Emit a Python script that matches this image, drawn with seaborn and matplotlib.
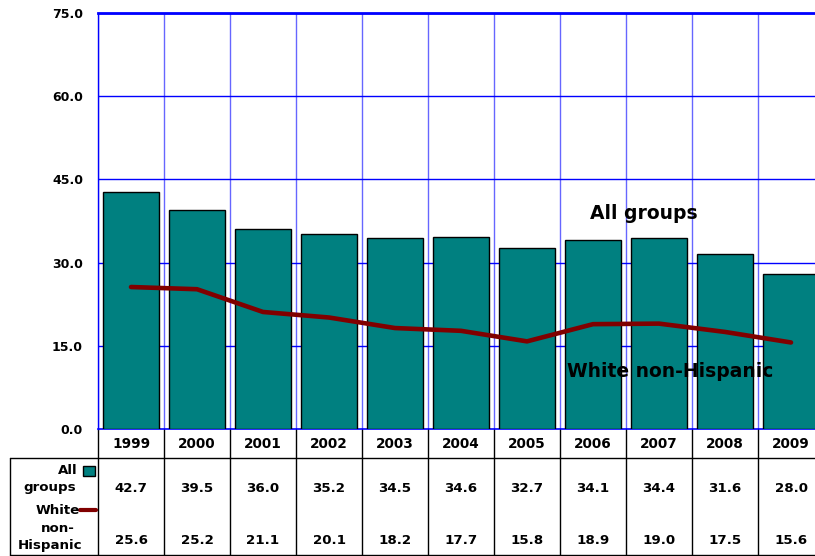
import matplotlib
matplotlib.use('Agg')
import matplotlib.pyplot as plt
import seaborn as sns
import numpy as np

years = ['1999', '2000', '2001', '2002', '2003', '2004', '2005', '2006', '2007', '2008', '2009']
all_groups = [42.7, 39.5, 36.0, 35.2, 34.5, 34.6, 32.7, 34.1, 34.4, 31.6, 28.0]
white_non_hispanic = [25.6, 25.2, 21.1, 20.1, 18.2, 17.7, 15.8, 18.9, 19.0, 17.5, 15.6]
y_ticks = [0, 15, 30, 45, 60, 75]

teal = '#008080'
maroon = '#800000'
grid_blue = '#0000ff'

sns.set_style('white')
plt.rcParams['font.family'] = ['DejaVu Sans']
plt.rcParams['text.color'] = 'black'
plt.rcParams['ytick.color'] = 'black'
plt.rcParams['xtick.color'] = 'black'

fig = plt.figure(figsize=(8.15, 5.56), dpi=100)
# axes runs a bit past the right edge, like the original
ax = fig.add_axes([98 / 815, 127 / 556, 726 / 815, 416 / 556])

n = len(years)
pos = np.arange(n)

sns.barplot(x=years, y=all_groups, color=teal, saturation=1, width=0.85,
            edgecolor='black', linewidth=1, ax=ax, zorder=3)
sns.lineplot(x=pos, y=white_non_hispanic, color=maroon, linewidth=3.3,
             ax=ax, zorder=4)

ax.set_xlim(-0.5, n - 0.5)
ax.set_ylim(0, 75)
ax.set_yticks(y_ticks)
ax.set_yticklabels(['%.1f' % v for v in y_ticks], fontweight='bold', fontsize=9)
ax.tick_params(axis='y', length=0, pad=10.8)
ax.set_xticks([])
ax.set_xlabel('')
ax.set_ylabel('')

# grid
for v in y_ticks[1:]:
    ax.axhline(v, color=grid_blue, lw=1, zorder=1)
for b in np.arange(n + 1) - 0.5:
    ax.axvline(b, color=grid_blue, lw=1, alpha=0.6, zorder=1)
for side in ['left', 'top', 'bottom']:
    ax.spines[side].set_color(grid_blue)
ax.spines['top'].set_linewidth(2)
ax.spines['left'].set_linewidth(1)
ax.spines['bottom'].set_linewidth(1.2)
ax.spines['right'].set_visible(False)

ax.text(6.95, 38.9, 'All groups', fontsize=13.5, fontweight='bold',
        va='center', ha='left', zorder=5)
ax.text(6.6, 10.3, 'White non-Hispanic', fontsize=13.5, fontweight='bold',
        va='center', ha='left', zorder=5)

# data table under the chart
tr = ax.get_xaxis_transform()
y_row_line = -29 / 416
y_bottom = -126 / 416
x_left = (10 - 98) / 66 - 0.5

for b in np.arange(n + 1) - 0.5:
    ax.plot([b, b], [0, y_bottom], color='black', lw=1, transform=tr, clip_on=False)
ax.plot([x_left, n], [y_row_line, y_row_line], color='black', lw=1, transform=tr, clip_on=False)
ax.plot([x_left, x_left], [y_row_line, y_bottom], color='black', lw=1, transform=tr, clip_on=False)
ax.plot([x_left, n], [y_bottom, y_bottom], color='black', lw=1, transform=tr, clip_on=False)

for i in range(n):
    ax.text(i, -15 / 416, years[i], transform=tr, ha='center', va='center',
            fontsize=9.8, fontweight='bold')
    ax.text(i, -59 / 416, '%.1f' % all_groups[i], transform=tr, ha='center',
            va='center', fontsize=9.6, fontweight='bold')
    ax.text(i, -111 / 416, '%.1f' % white_non_hispanic[i], transform=tr,
            ha='center', va='center', fontsize=9.6, fontweight='bold')


def px(x):
    return (x - 98) / 66 - 0.5


ax.text(px(78), -42 / 416, 'All', transform=tr, ha='right', va='center',
        fontsize=9.6, fontweight='bold')
ax.add_patch(plt.Rectangle((px(83), -47 / 416), 12 / 66, 10 / 416, transform=tr,
                           facecolor=teal, edgecolor='black', lw=1, clip_on=False))
ax.text(px(76), -59 / 416, 'groups', transform=tr, ha='right', va='center',
        fontsize=9.6, fontweight='bold')
ax.text(px(80), -81 / 416, 'White', transform=tr, ha='right', va='center',
        fontsize=9.6, fontweight='bold')
ax.plot([px(80), px(96)], [-81 / 416, -81 / 416], color=maroon, lw=3,
        transform=tr, clip_on=False)
ax.text(px(75), -99 / 416, 'non-', transform=tr, ha='right', va='center',
        fontsize=9.6, fontweight='bold')
ax.text(px(82), -117 / 416, 'Hispanic', transform=tr, ha='right', va='center',
        fontsize=9.6, fontweight='bold')

fig.savefig('out.png', dpi=100)
